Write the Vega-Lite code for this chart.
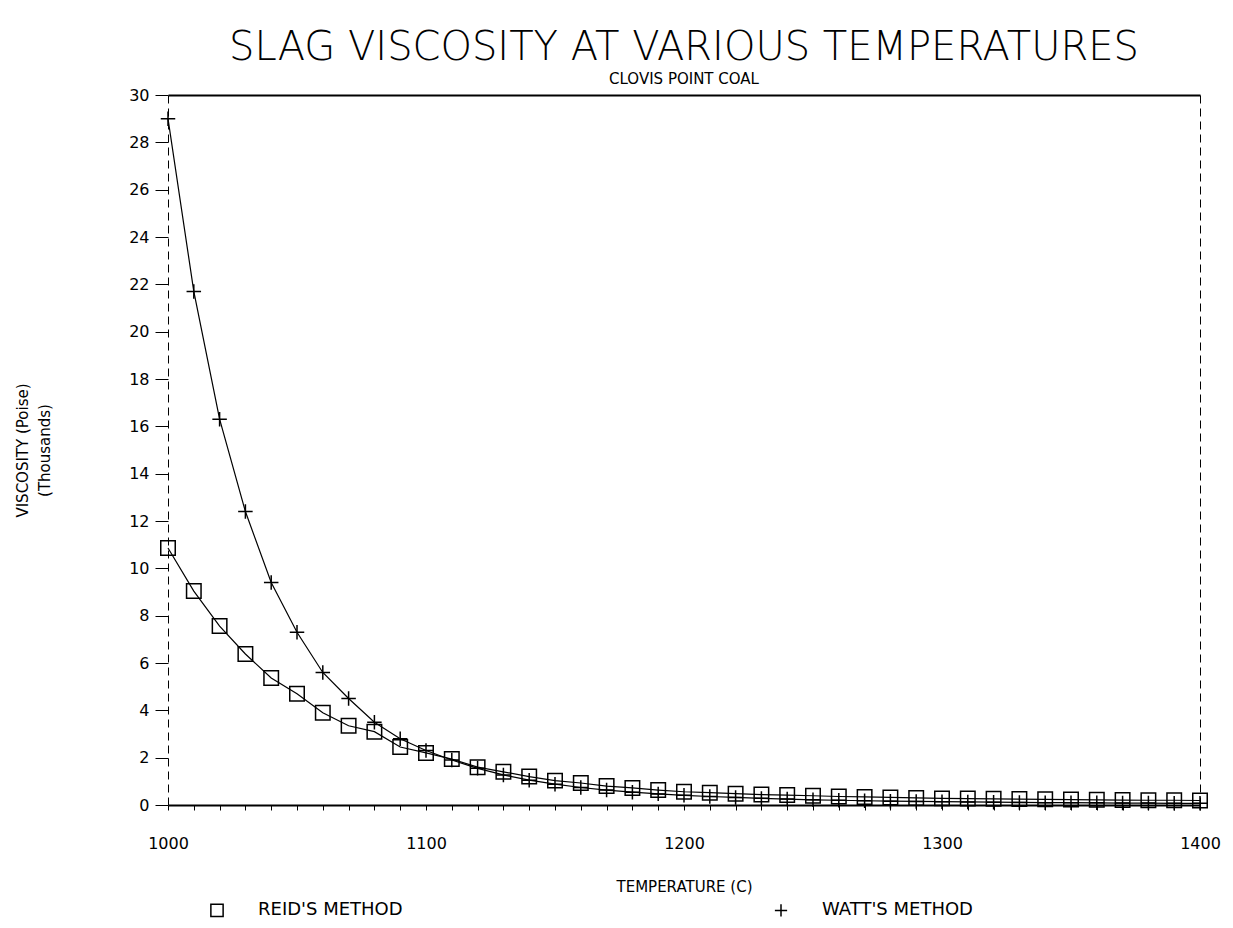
{
  "$schema": "https://vega.github.io/schema/vega-lite/v6.json",
  "autosize": {"type": "none"},
  "width": 1032,
  "height": 710,
  "padding": {"left": 168, "top": 95, "right": 33, "bottom": 123},
  "background": "white",
  "config": {
    "view": {"stroke": null},
    "font": "DejaVu Sans",
    "axis": {"labelFont": "DejaVu Sans", "titleFont": "DejaVu Sans", "labelColor": "black", "titleColor": "black", "domainColor": "black", "tickColor": "black", "titleFontWeight": "normal", "grid": false, "labelFlush": false}
  },
  "title": {
    "text": "SLAG VISCOSITY AT VARIOUS TEMPERATURES",
    "subtitle": "CLOVIS POINT COAL",
    "anchor": "middle",
    "font": "DejaVu Sans",
    "fontSize": 40,
    "fontWeight": 200,
    "color": "black",
    "subtitleFont": "DejaVu Sans",
    "subtitleFontSize": 15,
    "subtitleColor": "black",
    "subtitlePadding": 4,
    "offset": 0
  },
  "data": {
    "values": [
      {"temp": 1000, "method": "REID'S METHOD", "visc": 10.86},
      {"temp": 1010, "method": "REID'S METHOD", "visc": 9.04},
      {"temp": 1020, "method": "REID'S METHOD", "visc": 7.56},
      {"temp": 1030, "method": "REID'S METHOD", "visc": 6.38},
      {"temp": 1040, "method": "REID'S METHOD", "visc": 5.37},
      {"temp": 1050, "method": "REID'S METHOD", "visc": 4.7},
      {"temp": 1060, "method": "REID'S METHOD", "visc": 3.9},
      {"temp": 1070, "method": "REID'S METHOD", "visc": 3.35},
      {"temp": 1080, "method": "REID'S METHOD", "visc": 3.1},
      {"temp": 1090, "method": "REID'S METHOD", "visc": 2.45},
      {"temp": 1100, "method": "REID'S METHOD", "visc": 2.2},
      {"temp": 1110, "method": "REID'S METHOD", "visc": 1.94},
      {"temp": 1120, "method": "REID'S METHOD", "visc": 1.6},
      {"temp": 1130, "method": "REID'S METHOD", "visc": 1.4},
      {"temp": 1140, "method": "REID'S METHOD", "visc": 1.2},
      {"temp": 1150, "method": "REID'S METHOD", "visc": 1.03},
      {"temp": 1160, "method": "REID'S METHOD", "visc": 0.93},
      {"temp": 1170, "method": "REID'S METHOD", "visc": 0.8},
      {"temp": 1180, "method": "REID'S METHOD", "visc": 0.72},
      {"temp": 1190, "method": "REID'S METHOD", "visc": 0.63},
      {"temp": 1200, "method": "REID'S METHOD", "visc": 0.56},
      {"temp": 1210, "method": "REID'S METHOD", "visc": 0.52},
      {"temp": 1220, "method": "REID'S METHOD", "visc": 0.48},
      {"temp": 1230, "method": "REID'S METHOD", "visc": 0.44},
      {"temp": 1240, "method": "REID'S METHOD", "visc": 0.42},
      {"temp": 1250, "method": "REID'S METHOD", "visc": 0.39},
      {"temp": 1260, "method": "REID'S METHOD", "visc": 0.36},
      {"temp": 1270, "method": "REID'S METHOD", "visc": 0.34},
      {"temp": 1280, "method": "REID'S METHOD", "visc": 0.32},
      {"temp": 1290, "method": "REID'S METHOD", "visc": 0.3},
      {"temp": 1300, "method": "REID'S METHOD", "visc": 0.28},
      {"temp": 1310, "method": "REID'S METHOD", "visc": 0.27},
      {"temp": 1320, "method": "REID'S METHOD", "visc": 0.26},
      {"temp": 1330, "method": "REID'S METHOD", "visc": 0.25},
      {"temp": 1340, "method": "REID'S METHOD", "visc": 0.24},
      {"temp": 1350, "method": "REID'S METHOD", "visc": 0.23},
      {"temp": 1360, "method": "REID'S METHOD", "visc": 0.22},
      {"temp": 1370, "method": "REID'S METHOD", "visc": 0.21},
      {"temp": 1380, "method": "REID'S METHOD", "visc": 0.2},
      {"temp": 1390, "method": "REID'S METHOD", "visc": 0.2},
      {"temp": 1400, "method": "REID'S METHOD", "visc": 0.19},
      {"temp": 1000, "method": "WATT'S METHOD", "visc": 29.0},
      {"temp": 1010, "method": "WATT'S METHOD", "visc": 21.7},
      {"temp": 1020, "method": "WATT'S METHOD", "visc": 16.3},
      {"temp": 1030, "method": "WATT'S METHOD", "visc": 12.4},
      {"temp": 1040, "method": "WATT'S METHOD", "visc": 9.4},
      {"temp": 1050, "method": "WATT'S METHOD", "visc": 7.3},
      {"temp": 1060, "method": "WATT'S METHOD", "visc": 5.6},
      {"temp": 1070, "method": "WATT'S METHOD", "visc": 4.5},
      {"temp": 1080, "method": "WATT'S METHOD", "visc": 3.5},
      {"temp": 1090, "method": "WATT'S METHOD", "visc": 2.8},
      {"temp": 1100, "method": "WATT'S METHOD", "visc": 2.3},
      {"temp": 1110, "method": "WATT'S METHOD", "visc": 1.9},
      {"temp": 1120, "method": "WATT'S METHOD", "visc": 1.55},
      {"temp": 1130, "method": "WATT'S METHOD", "visc": 1.27},
      {"temp": 1140, "method": "WATT'S METHOD", "visc": 1.05},
      {"temp": 1150, "method": "WATT'S METHOD", "visc": 0.88},
      {"temp": 1160, "method": "WATT'S METHOD", "visc": 0.74},
      {"temp": 1170, "method": "WATT'S METHOD", "visc": 0.63},
      {"temp": 1180, "method": "WATT'S METHOD", "visc": 0.54},
      {"temp": 1190, "method": "WATT'S METHOD", "visc": 0.47},
      {"temp": 1200, "method": "WATT'S METHOD", "visc": 0.41},
      {"temp": 1210, "method": "WATT'S METHOD", "visc": 0.36},
      {"temp": 1220, "method": "WATT'S METHOD", "visc": 0.32},
      {"temp": 1230, "method": "WATT'S METHOD", "visc": 0.28},
      {"temp": 1240, "method": "WATT'S METHOD", "visc": 0.25},
      {"temp": 1250, "method": "WATT'S METHOD", "visc": 0.22},
      {"temp": 1260, "method": "WATT'S METHOD", "visc": 0.2},
      {"temp": 1270, "method": "WATT'S METHOD", "visc": 0.18},
      {"temp": 1280, "method": "WATT'S METHOD", "visc": 0.16},
      {"temp": 1290, "method": "WATT'S METHOD", "visc": 0.15},
      {"temp": 1300, "method": "WATT'S METHOD", "visc": 0.14},
      {"temp": 1310, "method": "WATT'S METHOD", "visc": 0.13},
      {"temp": 1320, "method": "WATT'S METHOD", "visc": 0.12},
      {"temp": 1330, "method": "WATT'S METHOD", "visc": 0.11},
      {"temp": 1340, "method": "WATT'S METHOD", "visc": 0.1},
      {"temp": 1350, "method": "WATT'S METHOD", "visc": 0.1},
      {"temp": 1360, "method": "WATT'S METHOD", "visc": 0.09},
      {"temp": 1370, "method": "WATT'S METHOD", "visc": 0.08},
      {"temp": 1380, "method": "WATT'S METHOD", "visc": 0.08},
      {"temp": 1390, "method": "WATT'S METHOD", "visc": 0.07},
      {"temp": 1400, "method": "WATT'S METHOD", "visc": 0.07}
    ]
  },
  "resolve": {"axis": {"x": "independent", "y": "independent"}},
  "layer": [
    {
      "mark": {"type": "line", "color": "black", "strokeWidth": 1.2},
      "encoding": {
        "x": {
          "field": "temp", "type": "quantitative",
          "scale": {"domain": [1000, 1400], "nice": false, "zero": false},
          "axis": {
            "title": "TEMPERATURE (C)",
            "values": [1000,1010,1020,1030,1040,1050,1060,1070,1080,1090,1100,1110,1120,1130,1140,1150,1160,1170,1180,1190,1200,1210,1220,1230,1240,1250,1260,1270,1280,1290,1300,1310,1320,1330,1340,1350,1360,1370,1380,1390,1400],
            "labelExpr": "datum.value % 100 == 0 ? datum.value : ''",
            "format": "d",
            "labelFontSize": 16,
            "labelPadding": 25,
            "tickSize": 5,
            "domainWidth": 2,
            "titleFontSize": 15,
            "titlePadding": 28
          }
        },
        "y": {
          "field": "visc", "type": "quantitative",
          "scale": {"domain": [0, 30], "nice": false},
          "axis": {
            "title": ["VISCOSITY (Poise)", "(Thousands)"],
            "values": [0,2,4,6,8,10,12,14,16,18,20,22,24,26,28,30],
            "labelFontSize": 16,
            "labelPadding": 6,
            "tickSize": 13,
            "domainDash": [8, 5],
            "titleFontSize": 15,
            "titleLineHeight": 22,
            "titlePadding": 76
          }
        },
        "detail": {"field": "method"}
      }
    },
    {
      "mark": {"type": "point", "filled": false, "color": "black", "strokeWidth": 1.5, "opacity": 1, "size": 210},
      "encoding": {
        "x": {"field": "temp", "type": "quantitative", "axis": {"orient": "top", "labels": false, "ticks": false, "title": null, "domainWidth": 2}},
        "y": {"field": "visc", "type": "quantitative", "axis": {"orient": "right", "labels": false, "ticks": false, "title": null, "domainDash": [8, 5]}},
        "shape": {
          "field": "method", "type": "nominal",
          "scale": {"domain": ["REID'S METHOD", "WATT'S METHOD"], "range": ["square", "M-1,0H1M0,-1V1"]},
          "legend": {
            "title": null,
            "orient": "none",
            "legendX": 40,
            "legendY": 806,
            "direction": "horizontal",
            "columnPadding": 368,
            "labelFontSize": 18,
            "labelOffset": 32,
            "symbolSize": 150,
            "symbolStrokeColor": "black",
            "symbolStrokeWidth": 1.5,
            "labelColor": "black"
          }
        }
      }
    }
  ]
}
